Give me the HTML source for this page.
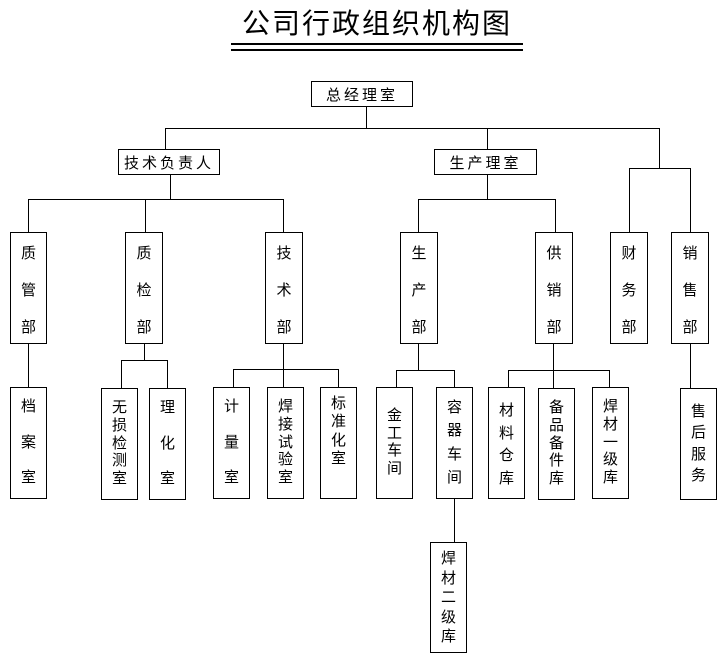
<!DOCTYPE html>
<html><head><meta charset="utf-8"><style>
body{margin:0;width:725px;height:665px;background:#fff;position:relative;overflow:hidden;font-family:"Liberation Sans","Noto Sans CJK SC",sans-serif;color:#000}
.b{position:absolute;border:1px solid #000;box-sizing:border-box;background:#fff}
.h{display:flex;align-items:center;justify-content:center;font-size:15px;letter-spacing:3px}
.v{display:flex;flex-direction:column;align-items:center;justify-content:space-between;font-size:15px;line-height:15px;padding:11px 0 13px}
.v3{padding:13px 0 8px}
.l{position:absolute;background:#000}
</style></head><body>
<div style="position:absolute;left:231px;top:6px;width:292px;text-align:center;font-size:28px;letter-spacing:2px;line-height:36px">公司行政组织机构图</div>
<div class="l" style="left:231px;top:43px;width:292px;height:1.5px"></div>
<div class="l" style="left:231px;top:49px;width:292px;height:1.5px"></div>

<div class="l" style="left:366px;top:106px;width:1px;height:22px"></div>
<div class="l" style="left:165px;top:128px;width:495px;height:1px"></div>
<div class="l" style="left:165px;top:128px;width:1px;height:21px"></div>
<div class="l" style="left:487px;top:128px;width:1px;height:21px"></div>
<div class="l" style="left:659px;top:128px;width:1px;height:40px"></div>
<div class="l" style="left:629px;top:168px;width:62px;height:1px"></div>
<div class="l" style="left:629px;top:168px;width:1px;height:64px"></div>
<div class="l" style="left:690px;top:168px;width:1px;height:64px"></div>

<div class="l" style="left:170px;top:174px;width:1px;height:25px"></div>
<div class="l" style="left:28px;top:199px;width:256px;height:1px"></div>
<div class="l" style="left:28px;top:199px;width:1px;height:33px"></div>
<div class="l" style="left:145px;top:199px;width:1px;height:33px"></div>
<div class="l" style="left:283px;top:199px;width:1px;height:33px"></div>

<div class="l" style="left:487px;top:174px;width:1px;height:25px"></div>
<div class="l" style="left:418px;top:199px;width:138px;height:1px"></div>
<div class="l" style="left:418px;top:199px;width:1px;height:33px"></div>
<div class="l" style="left:555px;top:199px;width:1px;height:33px"></div>

<div class="l" style="left:28px;top:343px;width:1px;height:44px"></div>
<div class="l" style="left:144px;top:343px;width:1px;height:17px"></div>
<div class="l" style="left:121px;top:360px;width:47px;height:1px"></div>
<div class="l" style="left:121px;top:360px;width:1px;height:28px"></div>
<div class="l" style="left:167px;top:360px;width:1px;height:28px"></div>

<div class="l" style="left:283px;top:343px;width:1px;height:44px"></div>
<div class="l" style="left:233px;top:369px;width:106px;height:1px"></div>
<div class="l" style="left:233px;top:369px;width:1px;height:18px"></div>
<div class="l" style="left:338px;top:369px;width:1px;height:18px"></div>

<div class="l" style="left:418px;top:343px;width:1px;height:27px"></div>
<div class="l" style="left:396px;top:370px;width:59px;height:1px"></div>
<div class="l" style="left:396px;top:370px;width:1px;height:17px"></div>
<div class="l" style="left:454px;top:370px;width:1px;height:17px"></div>
<div class="l" style="left:454px;top:498px;width:1px;height:44px"></div>

<div class="l" style="left:553px;top:343px;width:1px;height:45px"></div>
<div class="l" style="left:508px;top:370px;width:102px;height:1px"></div>
<div class="l" style="left:508px;top:370px;width:1px;height:18px"></div>
<div class="l" style="left:609px;top:370px;width:1px;height:18px"></div>

<div class="l" style="left:690px;top:343px;width:1px;height:45px"></div>

<div class="b h" style="left:311px;top:81px;width:102px;height:26px">总经理室</div>
<div class="b h" style="left:118px;top:149px;width:102px;height:26px">技术负责人</div>
<div class="b h" style="left:434px;top:149px;width:103px;height:26px">生产理室</div>

<div class="b v v3" style="left:10px;top:232px;width:37px;height:112px"><span>质</span><span>管</span><span>部</span></div>
<div class="b v v3" style="left:125px;top:232px;width:38px;height:112px"><span>质</span><span>检</span><span>部</span></div>
<div class="b v v3" style="left:265px;top:232px;width:38px;height:112px"><span>技</span><span>术</span><span>部</span></div>
<div class="b v v3" style="left:400px;top:232px;width:38px;height:112px"><span>生</span><span>产</span><span>部</span></div>
<div class="b v v3" style="left:535px;top:232px;width:38px;height:112px"><span>供</span><span>销</span><span>部</span></div>
<div class="b v v3" style="left:610px;top:232px;width:38px;height:112px"><span>财</span><span>务</span><span>部</span></div>
<div class="b v v3" style="left:671px;top:232px;width:38px;height:112px"><span>销</span><span>售</span><span>部</span></div>

<div class="b v" style="left:10px;top:387px;width:37px;height:112px"><span>档</span><span>案</span><span>室</span></div>
<div class="b v" style="left:101px;top:388px;width:37px;height:112px"><span>无</span><span>损</span><span>检</span><span>测</span><span>室</span></div>
<div class="b v" style="left:149px;top:388px;width:37px;height:112px"><span>理</span><span>化</span><span>室</span></div>
<div class="b v" style="left:213px;top:387px;width:37px;height:112px"><span>计</span><span>量</span><span>室</span></div>
<div class="b v" style="left:267px;top:387px;width:37px;height:112px"><span>焊</span><span>接</span><span>试</span><span>验</span><span>室</span></div>
<div class="b v" style="left:320px;top:387px;width:37px;height:112px;padding:8px 0 32px"><span>标</span><span>准</span><span>化</span><span>室</span></div>
<div class="b v" style="left:376px;top:387px;width:37px;height:112px;padding:20px 0 22px"><span>金</span><span>工</span><span>车</span><span>间</span></div>
<div class="b v" style="left:436px;top:387px;width:37px;height:112px;padding:12px 0 13px"><span>容</span><span>器</span><span>车</span><span>间</span></div>
<div class="b v" style="left:488px;top:387px;width:37px;height:112px;padding:15px 0 12px"><span>材</span><span>料</span><span>仓</span><span>库</span></div>
<div class="b v" style="left:538px;top:388px;width:37px;height:112px"><span>备</span><span>品</span><span>备</span><span>件</span><span>库</span></div>
<div class="b v" style="left:592px;top:387px;width:37px;height:112px"><span>焊</span><span>材</span><span>一</span><span>级</span><span>库</span></div>
<div class="b v" style="left:680px;top:388px;width:37px;height:112px;padding:15px 0 16px"><span>售</span><span>后</span><span>服</span><span>务</span></div>
<div class="b v" style="left:430px;top:542px;width:37px;height:111px;padding:8px 0 8px"><span>焊</span><span>材</span><span>二</span><span>级</span><span>库</span></div>
</body></html>
